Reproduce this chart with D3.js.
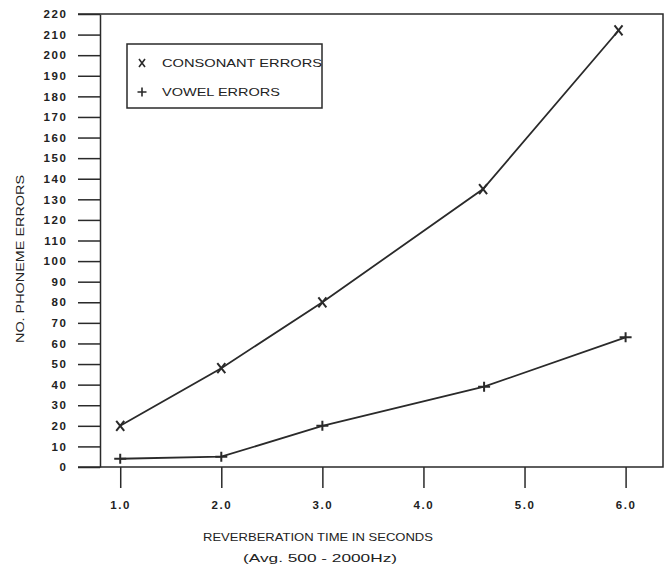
<!DOCTYPE html>
<html>
<head>
<meta charset="utf-8">
<script src="https://cdn.jsdelivr.net/npm/d3@7"></script>
<style>
  body { margin: 0; background: #fff; }
  text { font-family: "Liberation Sans", Arial, sans-serif; fill: #222; }
</style>
</head>
<body>
<svg width="667" height="567"></svg>
<script>
// values
let consonant_x = [1.0, 2.0, 3.0, 4.59, 5.93]
let consonant_y = [20, 48, 80, 135, 212]
let vowel_x = [1.0, 2.0, 3.0, 4.6, 6.0]
let vowel_y = [4, 5, 20, 39, 63]
let x_ticks = [1, 2, 3, 4, 5, 6]
let y_ticks = d3.range(0, 221, 10)
let legend_labels = ["CONSONANT ERRORS", "VOWEL ERRORS"]

let ink = "#2a2a2a"
let svg = d3.select("svg")

let x = d3.scaleLinear().domain([0.8, 6.37]).range([100, 663])
let y = d3.scaleLinear().domain([0, 220]).range([467, 14])

// y axis with long left ticks
let yAxis = svg.append("g")
  .attr("transform", "translate(100,0)")
  .call(d3.axisLeft(y).tickValues(y_ticks).tickSize(22).tickSizeOuter(0).tickPadding(12))
yAxis.selectAll("line,path").attr("stroke", ink).attr("stroke-width", 1.5)
yAxis.selectAll("text")
  .attr("font-size", 11.5).attr("font-weight", "bold")
  .attr("letter-spacing", 1.6).attr("fill", ink)
  .attr("dx", 1.6)

// x axis, baseline runs out past the y axis
let xAxis = svg.append("g")
  .attr("transform", "translate(0,467)")
  .call(d3.axisBottom(x).tickValues(x_ticks).tickSize(21).tickSizeOuter(0)
        .tickPadding(13).tickFormat(d3.format(".1f")))
xAxis.select("path").remove()
xAxis.selectAll("line").attr("stroke", ink).attr("stroke-width", 1.5)
xAxis.selectAll("text")
  .attr("font-size", 11.5).attr("font-weight", "bold")
  .attr("letter-spacing", 1.6).attr("fill", ink)

// frame: baseline, top line and right edge
svg.append("path")
  .attr("d", `M78,${y(0)}H${x.range()[1]}V${y(220)}H78`)
  .attr("fill", "none").attr("stroke", ink).attr("stroke-width", 1.5)

let line = d3.line().x(d => x(d[0])).y(d => y(d[1]))

function series(xs, ys, kind) {
  let pts = d3.zip(xs, ys)
  svg.append("path").datum(pts)
    .attr("d", line).attr("fill", "none")
    .attr("stroke", ink).attr("stroke-width", 1.8)
  svg.append("g").selectAll("path")
    .data(pts).join("path")
    .attr("transform", d => `translate(${x(d[0])},${y(d[1])})`)
    .attr("d", kind == "x" ? "M-4,-5L4,5M4,-5L-4,5" : "M-6,0H6M0,-5V5")
    .attr("stroke", ink).attr("stroke-width", 2)
}
series(consonant_x, consonant_y, "x")
series(vowel_x, vowel_y, "+")

// legend
let lg = svg.append("g")
lg.append("rect")
  .attr("x", 127).attr("y", 44).attr("width", 195).attr("height", 64)
  .attr("fill", "none").attr("stroke", ink).attr("stroke-width", 1.5)
lg.append("path").attr("d", "M139,59L145,67M145,59L139,67")
  .attr("stroke", ink).attr("stroke-width", 1.6)
lg.append("path").attr("d", "M137.5,92H146.5M142,87.5V96.5")
  .attr("stroke", ink).attr("stroke-width", 1.6)
lg.selectAll("text.lab").data(legend_labels).join("text")
  .attr("class", "lab")
  .attr("x", 162).attr("y", (d, i) => 67 + i * 29)
  .attr("font-size", 11.5)
  .attr("textLength", (d, i) => i == 0 ? 160 : 118)
  .attr("lengthAdjust", "spacingAndGlyphs")
  .text(d => d)

// axis titles
svg.append("text")
  .attr("x", 203).attr("y", 541)
  .attr("font-size", 11.5)
  .attr("textLength", 230).attr("lengthAdjust", "spacingAndGlyphs")
  .text("REVERBERATION TIME IN SECONDS")
svg.append("text")
  .attr("x", 243).attr("y", 562)
  .attr("font-size", 11.5)
  .attr("textLength", 154).attr("lengthAdjust", "spacingAndGlyphs")
  .text("(Avg. 500 - 2000Hz)")
svg.append("text")
  .attr("transform", "translate(24,343) rotate(-90)")
  .attr("font-size", 11.5)
  .attr("textLength", 168).attr("lengthAdjust", "spacingAndGlyphs")
  .text("NO. PHONEME ERRORS")
</script>
</body>
</html>
